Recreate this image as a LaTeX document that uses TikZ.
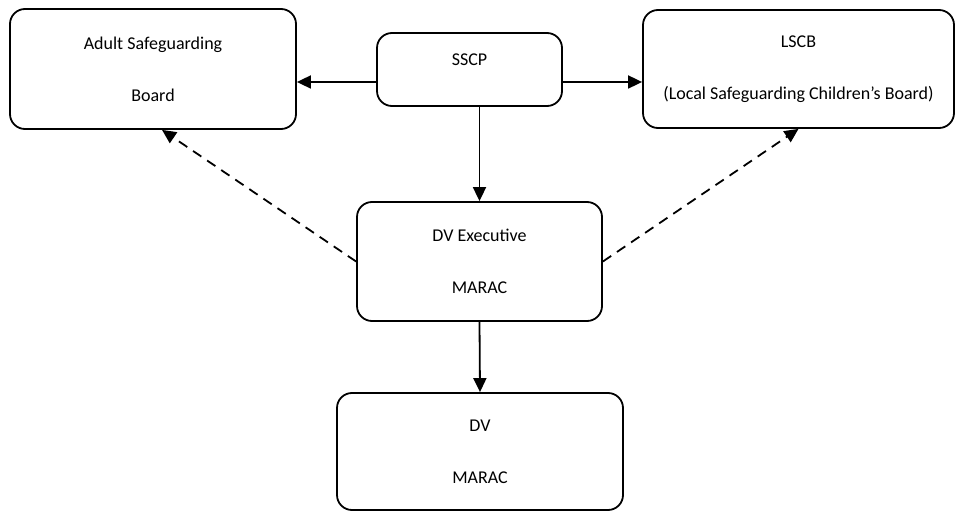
\documentclass[tikz,border=0pt]{standalone}
\usepackage{fontspec}
\setmainfont{Carlito}
\usetikzlibrary{arrows.meta}
\begin{document}
\begin{tikzpicture}[x=1pt,y=1pt,line width=1.8pt,
  >={Triangle[length=14pt,width=13pt]},
  board/.style={draw,rounded corners=15pt,align=center,inner sep=0pt,
    font=\fontsize{18}{22}\selectfont},
  link/.style={->,dash pattern=on 10pt off 7pt}]
\useasboundingbox (0,0) rectangle (956,512);
\node[board,minimum width=286pt,minimum height=120pt] (asb) at (153,443) {Adult Safeguarding\\[30pt]Board};
\node[board,minimum width=185pt,minimum height=73pt,text depth=19pt] (sscp) at (469.5,442.5) {SSCP};
\node[board,minimum width=311pt,minimum height=118pt] (lscb) at (798.5,443) {LSCB\\[30pt](Local Safeguarding Children’s Board)};
\node[board,minimum width=245pt,minimum height=119pt] (exec) at (479.5,250.5) {DV Executive\\[30pt]MARAC};
\node[board,minimum width=286pt,minimum height=117pt] (dv) at (480,60.5) {DV\\[30pt]MARAC};
\draw[->] ([yshift=-12.5pt]sscp.west) -- ([yshift=-12.5pt]sscp.west -| asb.east);
\draw[->] ([yshift=-12.5pt]sscp.east) -- ([yshift=-12.5pt]sscp.east -| lscb.west);
\draw[->] (exec.north |- sscp.south) -- (exec.north);
\draw[->] (exec.south) -- (dv.north);
\draw[link] (exec.west) -- ([xshift=9pt]asb.south);
\draw[link] (exec.east) -- (lscb.south);
\end{tikzpicture}
\end{document}
